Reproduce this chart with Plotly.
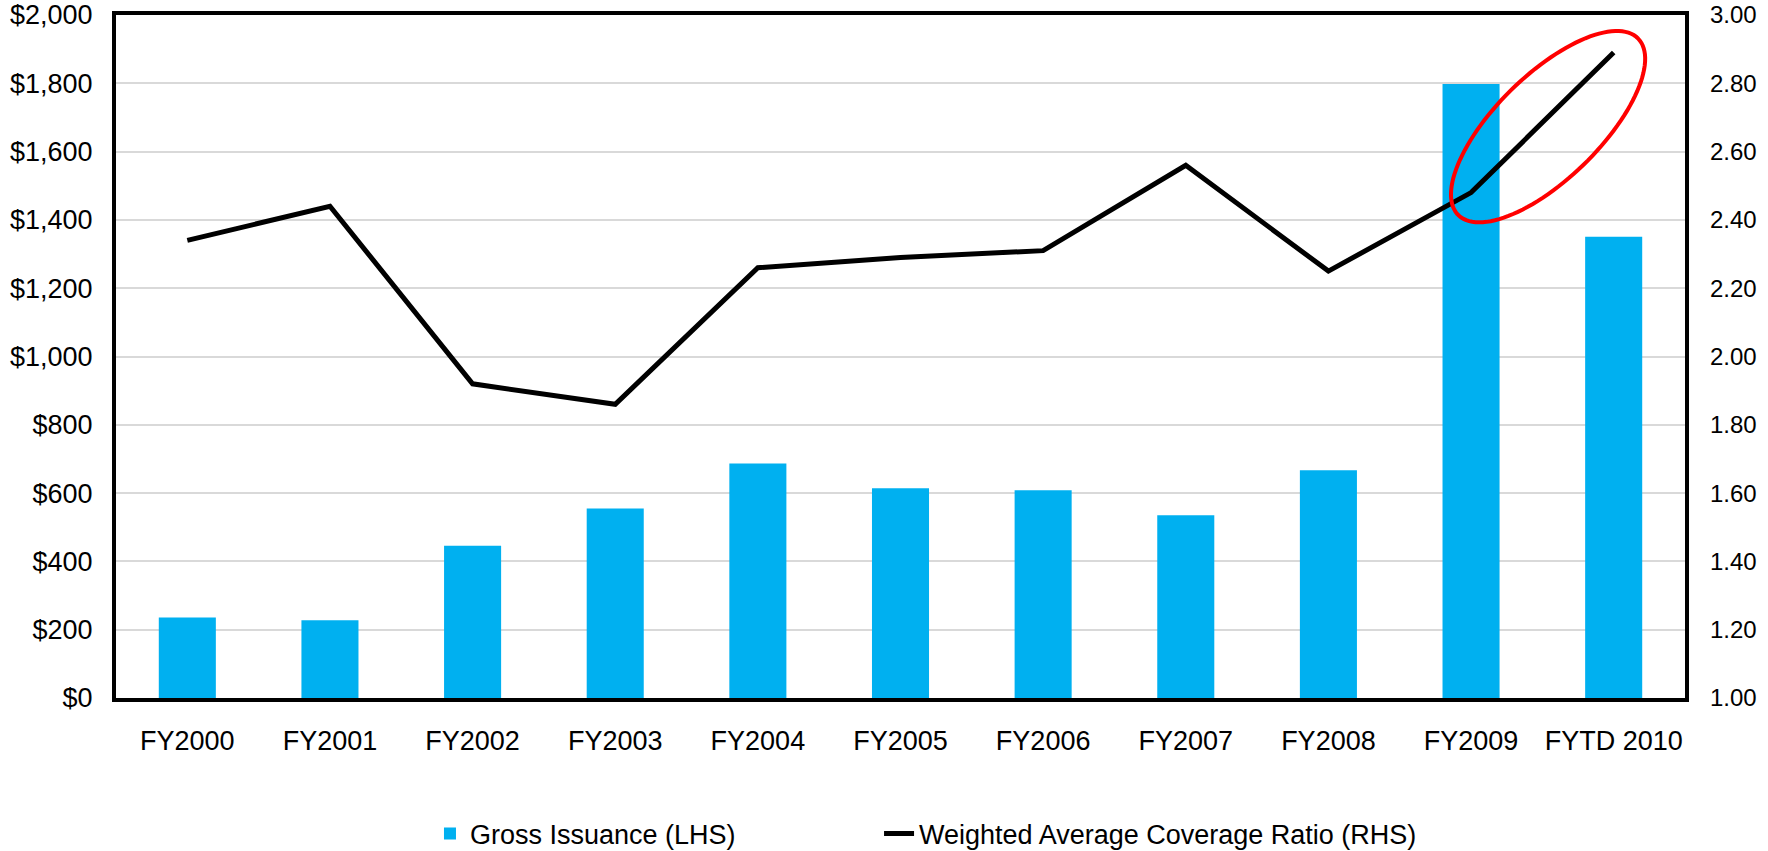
import numpy as np
import plotly.graph_objects as go

# fiscal years on the category axis
categories = ["FY2000", "FY2001", "FY2002", "FY2003", "FY2004", "FY2005",
              "FY2006", "FY2007", "FY2008", "FY2009", "FYTD 2010"]

# gross issuance, $ (LHS)
gross_issuance = [236, 228, 446, 555, 687, 614, 608, 535, 667, 1798, 1351]

# weighted average coverage ratio (RHS)
coverage_ratio = [2.34, 2.44, 1.92, 1.86, 2.26, 2.29, 2.31, 2.56, 2.25, 2.48, 2.89]

x_idx = list(range(len(categories)))

fig = go.Figure()

fig.add_trace(go.Bar(
    x=x_idx,
    y=gross_issuance,
    name="Gross Issuance (LHS)",
    marker_color="#00B0F0",
    marker_line_width=0,
    width=0.4,
    legend="legend",
))

fig.add_trace(go.Scatter(
    x=x_idx,
    y=coverage_ratio,
    name="Weighted Average Coverage Ratio (RHS)",
    mode="lines",
    line=dict(color="black", width=5),
    yaxis="y2",
    legend="legend2",
))

# red ellipse around the last segment (drawn in data space of x / y2)
px_per_x = 1569 / 11
px_per_y2 = 683 / 2
cx, cy = 9.54, 2.673
a_px, b_px, theta = 126, 52, np.radians(44.4)
t = np.linspace(0, 2 * np.pi, 120)
ex = cx + (a_px * np.cos(t) * np.cos(theta) - b_px * np.sin(t) * np.sin(theta)) / px_per_x
ey = cy + (a_px * np.cos(t) * np.sin(theta) + b_px * np.sin(t) * np.cos(theta)) / px_per_y2
path = "M " + " L ".join(f"{x:.4f},{y:.4f}" for x, y in zip(ex, ey)) + " Z"

fig.add_shape(type="path", path=path, xref="x", yref="y2",
              line=dict(color="#FF0000", width=4), layer="above")

font = dict(family="Liberation Sans, Arial, sans-serif", size=27, color="black")

legend_common = dict(
    orientation="h",
    xref="container", yref="container",
    xanchor="left", yanchor="middle",
    y=0.02,
    font=font,
    bgcolor="rgba(0,0,0,0)",
)

fig.update_layout(
    width=1768,
    height=851,
    margin=dict(l=116, r=83, t=15, b=153),
    plot_bgcolor="white",
    paper_bgcolor="white",
    font=font,
    showlegend=True,
    legend=dict(x=0.2432, **legend_common),
    legend2=dict(x=0.4972, **legend_common),
    xaxis=dict(
        range=[-0.5, 10.5],
        tickmode="array",
        tickvals=x_idx,
        ticktext=categories,
        showgrid=False,
        zeroline=False,
        showline=True,
        linecolor="black",
        linewidth=4,
        mirror=True,
        ticks="",
        ticklabelstandoff=16,
        automargin=False,
    ),
    yaxis=dict(
        range=[0, 2000],
        dtick=200,
        tickprefix="$",
        tickformat=",",
        showgrid=True,
        gridcolor="#D9D9D9",
        gridwidth=1.5,
        zeroline=False,
        showline=True,
        linecolor="black",
        linewidth=4,
        mirror=True,
        ticks="",
        ticklabelstandoff=14,
        ticklabeloverflow="allow",
        automargin=False,
    ),
    yaxis2=dict(
        range=[1, 3],
        dtick=0.2,
        tickformat=".2f",
        tickfont=dict(size=24),
        overlaying="y",
        side="right",
        showgrid=False,
        zeroline=False,
        ticks="",
        ticklabelstandoff=24,
        ticklabeloverflow="allow",
        automargin=False,
    ),
)

# drop the default 8px body margin so the figure fills the window exactly
fig.write_html("out.html", config={"displayModeBar": False},
               post_script="document.body.style.margin='0';")
